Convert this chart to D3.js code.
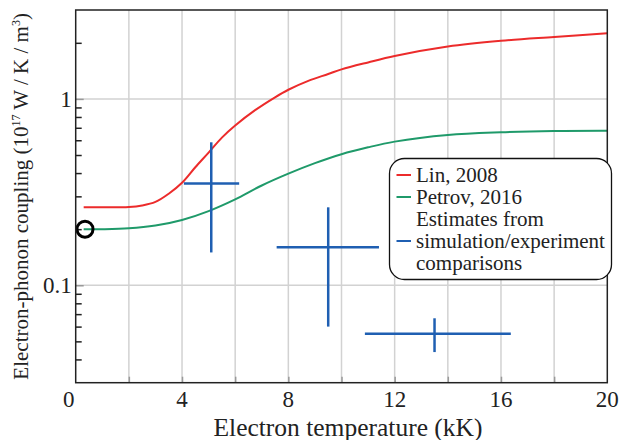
<!DOCTYPE html>
<html>
<head>
<meta charset="utf-8">
<script src="https://cdn.jsdelivr.net/npm/d3@7"></script>
<style>
    body { margin: 0; background: #fff; }
</style>
</head>
<body>
<svg id="chart" width="623" height="440"></svg>
<script>
"use strict";

// Lin, 2008
var linT = [0.3, 1, 2, 2.5, 3, 3.5, 4, 4.5, 5, 5.5, 6, 6.75, 7.5, 8, 8.75, 9.5, 10, 11, 12, 14, 16, 18, 20];
var linG = [0.262, 0.262, 0.263, 0.268, 0.28, 0.31, 0.355, 0.43, 0.515, 0.62, 0.72, 0.87, 1.02, 1.12, 1.25, 1.36, 1.44, 1.57, 1.70, 1.91, 2.05, 2.15, 2.25];
// Petrov, 2016
var petrovT = [0.3, 1, 2, 3, 4, 5, 6, 7, 8, 9, 10, 11, 12, 14, 16, 18, 20];
var petrovG = [0.2, 0.2, 0.202, 0.209, 0.224, 0.25, 0.289, 0.343, 0.397, 0.452, 0.505, 0.55, 0.59, 0.64, 0.662, 0.673, 0.675];
// estimates from simulation/experiment comparisons (crosses)
var estT = [5.1, 9.5, 13.5];
var estTLo = [4.07, 7.56, 10.88];
var estTHi = [6.15, 11.41, 16.37];
var estG = [0.352, 0.16, 0.055];
var estGLo = [0.15, 0.06, 0.0438];
var estGHi = [0.585, 0.262, 0.0665];
// open circle at room temperature
var pointT = [0.35];
var pointG = [0.2];

var xTicks = [0, 4, 8, 12, 16, 20];
var xGrid = [2, 4, 6, 8, 10, 12, 14, 16, 18];
var yTicks = [1, 0.1];
var yMinor = [2, 0.9, 0.8, 0.7, 0.6, 0.5, 0.4, 0.3, 0.2, 0.09, 0.08, 0.07, 0.06, 0.05, 0.04];

var legendNames = [["Lin, 2008"], ["Petrov, 2016"], ["Estimates from", "simulation/experiment", "comparisons"]];
var colors = ["#ec2b2b", "#1f9a6a", "#1f5fb2"];

var serif = "'Liberation Serif', Tinos, 'Times New Roman'";
var svg = d3.select("#chart");
var margin = { left: 75.7, top: 10, right: 15.7, bottom: 57.3 };
var width = 623 - margin.left - margin.right;
var height = 440 - margin.top - margin.bottom;

var x = d3.scaleLinear().domain([0, 20]).range([margin.left, margin.left + width]);
var y = d3.scaleLog().domain([0.03, 3]).range([margin.top + height, margin.top]);

function addText(sel, size) {
    return sel.append("text")
        .attr("fill", "#222")
        .style("font-family", serif)
        .style("font-size", size + "px");
}

// grid
var grid = svg.append("g").attr("class", "grid");
grid.selectAll("line.vx").data(xGrid).enter().append("line")
    .attr("x1", function (d) { return x(d); }).attr("x2", function (d) { return x(d); })
    .attr("y1", margin.top).attr("y2", margin.top + height)
    .attr("stroke", "#d2d2d2").attr("stroke-width", 1.5);
grid.selectAll("line.hy").data(yTicks).enter().append("line")
    .attr("x1", margin.left).attr("x2", margin.left + width)
    .attr("y1", function (d) { return y(d); }).attr("y2", function (d) { return y(d); })
    .attr("stroke", "#d2d2d2").attr("stroke-width", 1.5);

// small ticks along bottom (grey) and left (black)
var xAxis = d3.axisTop(x).tickValues(xGrid).tickSize(6).tickFormat("");
svg.append("g").attr("transform", "translate(0," + (margin.top + height) + ")").call(xAxis)
    .call(function (g) { g.select(".domain").remove(); g.selectAll("line").attr("stroke", "#999").attr("stroke-width", 1.5); });

var yMinorAxis = d3.axisRight(y).tickValues(yMinor).tickSize(6).tickFormat("");
svg.append("g").attr("transform", "translate(" + margin.left + ",0)").call(yMinorAxis)
    .call(function (g) { g.select(".domain").remove(); g.selectAll("line").attr("stroke", "#222").attr("stroke-width", 1.5); });

var yAxis = d3.axisRight(y).tickValues(yTicks).tickSize(8).tickFormat("");
svg.append("g").attr("transform", "translate(" + margin.left + ",0)").call(yAxis)
    .call(function (g) { g.select(".domain").remove(); g.selectAll("line").attr("stroke", "#999").attr("stroke-width", 1.5); });

// tick labels
var xl = svg.append("g");
xTicks.forEach(function (d) {
    addText(xl, 23)
        .attr("x", x(d) + (d === 0 ? -7 : 0))
        .attr("y", 406.5)
        .attr("text-anchor", "middle")
        .text(d);
});
var yl = svg.append("g");
yTicks.forEach(function (d) {
    addText(yl, 23)
        .attr("x", margin.left - 4)
        .attr("y", y(d) + 8)
        .attr("text-anchor", "end")
        .text(d);
});

// axis titles
addText(svg, 25.5)
    .attr("x", 348).attr("y", 435.5)
    .attr("text-anchor", "middle")
    .text("Electron temperature (kK)");
var yt = addText(svg, 21)
    .attr("transform", "translate(28," + (margin.top + height / 2) + ") rotate(-90)")
    .attr("text-anchor", "middle");
yt.append("tspan").text("Electron-phonon coupling (10");
yt.append("tspan").attr("dy", -8).style("font-size", "12px").text("17");
yt.append("tspan").attr("dy", 8).text(" W / K / m");
yt.append("tspan").attr("dy", -8).style("font-size", "12px").text("3");
yt.append("tspan").attr("dy", 8).text(")");

// curves
var line = d3.line()
    .x(function (d) { return x(d[0]); })
    .y(function (d) { return y(d[1]); })
    .curve(d3.curveCatmullRom.alpha(0.5));
var curves = [d3.zip(linT, linG), d3.zip(petrovT, petrovG)];
for (var i = 0; i < curves.length; i++) {
    svg.append("path").datum(curves[i])
        .attr("d", line)
        .attr("fill", "none")
        .attr("stroke", colors[i])
        .attr("stroke-width", 2);
}

// crosses
var est = svg.append("g").attr("stroke", colors[2]).attr("stroke-width", 2.5);
for (var j = 0; j < estT.length; j++) {
    est.append("line")
        .attr("x1", x(estT[j])).attr("x2", x(estT[j]))
        .attr("y1", y(estGLo[j])).attr("y2", y(estGHi[j]));
    est.append("line")
        .attr("x1", x(estTLo[j])).attr("x2", x(estTHi[j]))
        .attr("y1", y(estG[j])).attr("y2", y(estG[j]));
}

svg.selectAll("circle.pt").data(d3.zip(pointT, pointG)).enter().append("circle")
    .attr("cx", function (d) { return x(d[0]); })
    .attr("cy", function (d) { return y(d[1]); })
    .attr("r", 8)
    .attr("fill", "none")
    .attr("stroke", "#000")
    .attr("stroke-width", 3);

// frame
svg.append("rect")
    .attr("x", margin.left).attr("y", margin.top)
    .attr("width", width).attr("height", height)
    .attr("fill", "none").attr("stroke", "#222").attr("stroke-width", 1.5);

// legend
var lg = svg.append("g").attr("class", "legend");
lg.append("rect")
    .attr("x", 389.5).attr("y", 158.5)
    .attr("width", 222).attr("height", 121)
    .attr("rx", 15).attr("ry", 15)
    .attr("fill", "#fff").attr("stroke", "#111").attr("stroke-width", 1.3);
var row = 0;
for (var k = 0; k < legendNames.length; k++) {
    var lines = legendNames[k];
    var mid = 182 + 22 * (row + (lines.length - 1) / 2) - 7;
    lg.append("line")
        .attr("x1", 396.5).attr("x2", 411)
        .attr("y1", mid).attr("y2", mid)
        .attr("stroke", colors[k]).attr("stroke-width", 2);
    for (var m = 0; m < lines.length; m++) {
        addText(lg, 21)
            .attr("x", 416).attr("y", 182 + 22 * row)
            .text(lines[m]);
        row++;
    }
}
</script>
</body>
</html>
